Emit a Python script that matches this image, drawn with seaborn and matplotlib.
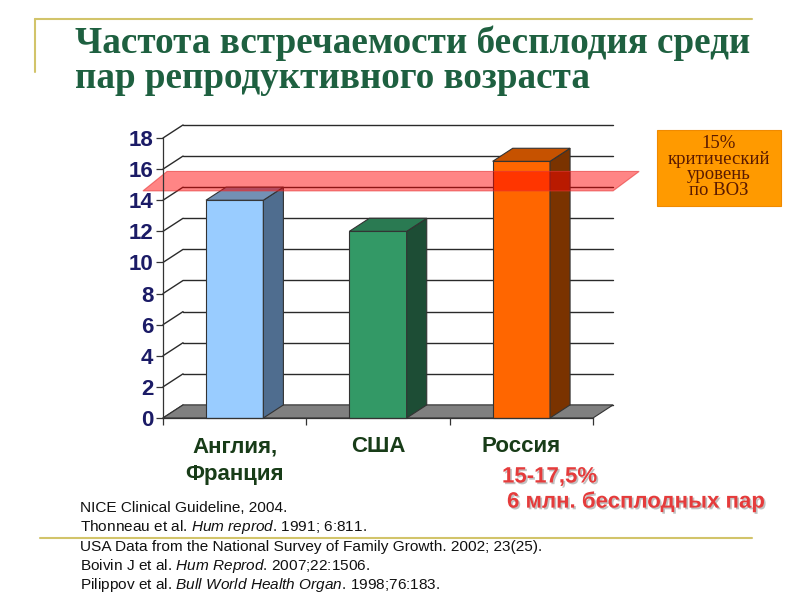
import numpy as np
import pandas as pd
import seaborn as sns
import matplotlib
matplotlib.use("Agg")
import matplotlib.pyplot as plt
import matplotlib.patheffects as pe
from matplotlib.patches import Polygon, Rectangle
from matplotlib.lines import Line2D

# data
countries = ["Англия,\nФранция", "США", "Россия"]
values = [14.0, 12.0, 16.5]
who_level = 15.0
yticks = list(range(0, 19, 2))

front_colors = ["#99ccff", "#339966", "#ff6600"]
side_colors = ["#4f6d8f", "#1d4d35", "#7a3300"]
top_colors = ["#7391b5", "#2a7a52", "#c65200"]

title_lines = ["Частота встречаемости бесплодия среди",
               "пар репродуктивного возраста"]
box_text = "15%\nкритический\nуровень\nпо ВОЗ"
refs = [
    r"NICE Clinical Guideline, 2004.",
    r"Thonneau et al. $\mathit{Hum\ reprod}$. 1991; 6:811.",
    r"USA Data from the National Survey of Family Growth. 2002; 23(25).",
    r"Boivin J et al. $\mathit{Hum\ Reprod}$. 2007;22:1506.",
    r"Pilippov et al. $\mathit{Bull\ World\ Health\ Organ}$. 1998;76:183.",
]

sns.set_theme(style="white")
plt.rcParams["font.family"] = ["Liberation Sans", "DejaVu Sans"]
plt.rcParams["mathtext.fontset"] = "custom"
plt.rcParams["mathtext.rm"] = "Liberation Sans"
plt.rcParams["mathtext.it"] = "Liberation Sans:italic"

fig = plt.figure(figsize=(8, 6), dpi=100)
fig.patch.set_facecolor("white")
W, H = 800, 600
ax = fig.add_axes([163 / W, 1 - 418 / H, 430 / W, 280 / H])

df = pd.DataFrame({"country": countries, "value": values})
sns.barplot(data=df, x="country", y="value", hue="country", palette=front_colors,
            saturation=1, width=0.4, edgecolor="#333333", linewidth=0.8,
            legend=False, ax=ax, zorder=3)

ax.set_xlim(-0.5, 2.5)
ax.set_ylim(0, 18)
dx, dy = 0.14, 0.84

# back wall gridlines + left diagonals
for v in yticks:
    ax.plot([-0.5 + dx, 2.5 + dx], [v + dy, v + dy], color="#2a2a2a", lw=1.0,
            zorder=0, clip_on=False)
    ax.plot([-0.5, -0.5 + dx], [v, v + dy], color="#2a2a2a", lw=1.0,
            zorder=0, clip_on=False)

# floor
floor = Polygon([(-0.5, 0), (2.5, 0), (2.5 + dx, dy), (-0.5 + dx, dy)],
                closed=True, facecolor="#808080", edgecolor="#333333", lw=0.8,
                zorder=1, clip_on=False)
ax.add_patch(floor)

# 3d faces of bars
for p, sc, tc in zip(ax.patches[:len(values)], side_colors, top_colors):
    x0, w, h = p.get_x(), p.get_width(), p.get_height()
    side = Polygon([(x0 + w, 0), (x0 + w + dx, dy), (x0 + w + dx, h + dy), (x0 + w, h)],
                   closed=True, facecolor=sc, edgecolor="#333333", lw=0.8,
                   zorder=3, clip_on=False)
    top = Polygon([(x0, h), (x0 + w, h), (x0 + w + dx, h + dy), (x0 + dx, h + dy)],
                  closed=True, facecolor=tc, edgecolor="#333333", lw=0.8,
                  zorder=3, clip_on=False)
    ax.add_patch(side)
    ax.add_patch(top)
    p.set_clip_on(False)

# WHO critical plane
lo = who_level - 0.4
plane = Polygon([(-0.5 - dx, lo), (2.5 + dx, lo), (2.5 + 2.3 * dx, lo + 1.25),
                 (-0.5 + 0.2 * dx, lo + 1.25)],
                closed=True, facecolor=(1, 0, 0, 0.48), edgecolor=(0.9, 0.2, 0.2, 0.6),
                lw=0.8, zorder=4, clip_on=False)
ax.add_patch(plane)

for s in ["top", "right"]:
    ax.spines[s].set_visible(False)
for s in ["left", "bottom"]:
    ax.spines[s].set_color("#333333")
    ax.spines[s].set_linewidth(0.9)
    ax.spines[s].set_zorder(5)

ax.set_yticks(yticks)
ax.set_yticklabels([str(v) for v in yticks], fontsize=16, fontweight="bold",
                   color="#1b1b66")
ax.tick_params(axis="y", direction="out", length=5, width=0.9, color="#333333", pad=2,
               left=True)
ax.set_xticks([0, 1, 2])
ax.set_xticklabels(countries, fontsize=16, fontweight="bold", color="#183c18")
for lab in ax.get_xticklabels():
    lab.set_linespacing(1.42)
ax.tick_params(axis="x", length=0, pad=13)
ax.set_xticks([-0.5, 0.5, 1.5, 2.5], minor=True)
ax.tick_params(axis="x", which="minor", direction="out", length=5, width=0.9,
               color="#333333", bottom=True)
ax.set_xlabel("")
ax.set_ylabel("")
ax.grid(False)

# decorative lines
line_c = "#d2c46a"
fig.add_artist(Line2D([35 / W, 752 / W], [1 - 19 / H] * 2, color=line_c, lw=1.5))
fig.add_artist(Line2D([35 / W, 35 / W], [1 - 19 / H, 1 - 72 / H], color=line_c, lw=1.5))
fig.add_artist(Line2D([40 / W, 752 / W], [1 - 538 / H] * 2, color=line_c, lw=1.5))

# title
for i, t in enumerate(title_lines):
    fig.text(75 / W, 1 - (43 + 36 * i) / H, t, fontsize=26.7, fontweight="bold",
             family=["Liberation Serif", "DejaVu Serif"], color="#1e6040", va="center")

# WHO box
fig.add_artist(Rectangle((657 / W, 1 - 206 / H), 124 / W, 76 / H,
                         transform=fig.transFigure, facecolor="#ff9a00",
                         edgecolor="#f08a00", lw=0.8))
fig.text(719 / W, 1 - 167 / H, box_text, fontsize=13.5,
         family=["Liberation Serif", "DejaVu Serif"], color="#5a1a00",
         ha="center", va="center", linespacing=0.92)

# russia note
shadow = [pe.withSimplePatchShadow(offset=(1.2, -1.2), shadow_rgbFace="#999999", alpha=0.6)]
fig.text(502 / W, 1 - 477 / H, "15-17,5%", fontsize=16, fontweight="bold",
         color="#e53b3b", va="center", path_effects=shadow)
fig.text(507 / W, 1 - 502 / H, "6 млн. бесплодных пар", fontsize=16, fontweight="bold",
         color="#e53b3b", va="center", path_effects=shadow)

# references
for i, r in enumerate(refs):
    fig.text(80 / W, 1 - (508 + 19.3 * i) / H, r, fontsize=11.1, color="#111111",
             va="center")

fig.savefig("out.png", dpi=100)
